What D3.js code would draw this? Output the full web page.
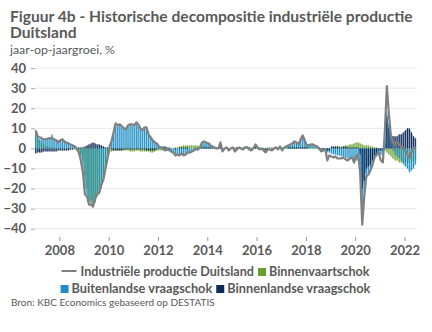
<!DOCTYPE html>
<html>
<head>
<meta charset="utf-8">
<script src="https://cdn.jsdelivr.net/npm/d3@7"></script>
<style>
  body { margin: 0; background: #fff; }
  svg { display: block; font-family: Lato, "Open Sans", sans-serif; }
</style>
</head>
<body>
<div id="chart"></div>
<script>
// maandelijkse reeksen, jan 2007 - jun 2022
const startYear = 2007;

const industrie = [
  9, 6, 5.5, 5, 4.5, 4.5, 5, 5, 5, 4.5, 4, 3,
  4, 4.5, 3.5, 3, 2.5, 2, 1.5, 1, 0, -2, -6, -12,
  -23, -24, -28, -28, -29, -25, -22.5, -22, -18, -15.5, -10, -5,
  1, 4, 8, 12.5, 11.5, 12, 11, 10, 9.5, 11.5, 12, 12,
  11.5, 13, 12, 10, 9, 10.5, 10.5, 7, 5.5, 4, 3, 2.5,
  1, 0.5, 0, -1, -0.5, -0.5, -1.5, -2, -3.5, -3, -3.5, -2.5,
  -3.5, -3, -2, -2, -1.5, -1, 0, -0.5, 0.5, 3, 3.5, 3,
  2.5, 1.5, 1, 0.5, 0, 0, 3, -1.5, 0, 0.5, -1, 0,
  0.5, -1.5, -0.5, 0.5, 0, -0.5, 0.5, 0.5, -0.5, -1, 0, 2,
  0.5, -0.5, 0, -1, -2, -0.5, -0.5, -1, 0, 0.5, -0.5, 1,
  -1, 0.5, 1, 1.5, 2, 2.5, 3.5, 3, 2, 4.5, 6.5, 4,
  1.5, 1.5, 2, 2, 1.5, 1, 0, -1.5, -1, -0.5, -6, -3.5,
  -4, -4.5, -4, -5, -5, -5, -4.5, -5.5, -6, -5, -4.5, -7,
  -4, -3, -12, -38, -24, -14, -13, -11, -8, -4, -3, -2,
  -6, -7, 8, 31, 17, 6, 3, 2, 3, 2, 1, 0,
  -1, -3, -5, -2, 0, 1
];

const binnenvaart = [
  9, 7, 4, 3, 2, 1, 1, 0.5, 0.5, 0, 0, 0,
  0, 0, 0, 0, -0.5, -0.5, -0.5, -0.5, -1, -1.5, -3, -6,
  -14, -20, -26, -28, -29, -27, -24, -23, -20, -16, -11, -6,
  -2, -1.5, -1, -1, -1, -1, -1, -1, -1, -1, -1.5, -1.5,
  -1.5, -1, -1, -1.5, -1.5, -1.5, -1.5, -1.5, -2, -2, -1.5, -1,
  -1, -1, -1, -1, -1, -0.5, -0.5, 0, 0.5, 0.5, 1, 1,
  1.5, 1.5, 1.5, 1.5, 1.5, 1.5, 1.5, 1.5, 1, 1, 1, 1,
  0.5, 0.5, 0.5, 0.5, 0.5, 0.5, 0, 0, 0, 0, 0, 0,
  0, 0.5, 0.5, 0.5, 0.5, 0.5, 1, 1, 0.5, 0.5, 0.5, 0.5,
  0.5, 0.5, 0, 0, 0, 0.5, 0.5, 0.5, 0, 0, 0, 0.5,
  0.5, 0.5, 0.5, 1, 1, 1, 1, 1, 0.5, 0.5, 0.5, 1,
  1, 1, 1, 0.5, 0.5, 0.5, 0, 0, -0.5, -0.5, -1, -1,
  0.5, 0.5, 0.5, 1, 1, 1, 1, 1.5, 1.5, 2, 2, 2.5,
  3, 3, 2.5, 2, 1.5, 1.5, 1.5, 1, 1, 0.5, 0.5, 0,
  0, 0, -1, -2, -3, -4, -5, -6, -6, -7, -7, -7,
  -7, -7, -7, -6.5, -6, -6
];

const buitenland = [
  7, 5.5, 4.5, 4.5, 4, 4.5, 5, 5.5, 7, 5, 4.5, 4,
  4, 4, 3.5, 3, 3, 2, 2, 1.5, 0.5, -1, -4, -10,
  -20, -24, -27, -26, -28, -25, -22, -21, -18, -15, -10, -5,
  1, 4, 7, 11, 11, 11.5, 10.5, 10, 9.5, 11, 11.5, 11.5,
  11, 12, 11.5, 10, 9, 10, 10, 7, 6, 4.5, 3.5, 2.5,
  1.5, 1, 0.5, -0.5, -1, -1.5, -2, -2.5, -3.5, -3, -3.5, -3,
  -3.5, -3, -2.5, -2.5, -2, -1.5, -1, -1, 0, 2.5, 3, 3,
  3, 2.5, 1.5, 1, 0.5, 0, 1.5, 0, 0, 0.5, -0.5, 0,
  0.5, -1, 0, 0.5, 0, -0.5, 0.5, 0.5, 0, -0.5, 0, 1.5,
  0.5, -0.5, 0, -0.5, -1, -0.5, 0, -0.5, 0, 0.5, -0.5, 1,
  -0.5, 0.5, 1, 1.5, 2, 2.5, 3, 3, 2, 4, 5.5, 4,
  2, 2, 2, 2, 1.5, 1, 0.5, -0.5, -0.5, -0.5, -2, -2,
  -2.5, -3, -3, -3.5, -3.5, -4, -4, -4.5, -5, -5, -5, -7.5,
  -6, -6, -11, -28, -22, -13, -12, -11, -9, -6, -4, -3,
  -3, -4, 2, 18, 12, 2, -1, -3, -4, -5, -6, -8,
  -9, -10, -12, -11, -10, -8
];

const binnenland = [
  -2.5, -2, -2, -2, -1.5, -1.5, -1.5, -1.5, -1.5, -1.5, -1.5, -1,
  -1, -1, -1, -1, -1, -0.5, -0.5, 0, 0, 0.5, 0.5, 0.5,
  1, 1.5, 2, 2.5, 3, 2.5, 2, 2, 1.5, 1, 0.5, 0.5,
  0, -0.5, -1, -1, -1, -1, -1, -0.5, -0.5, -0.5, -0.5, -0.5,
  -0.5, -0.5, -0.5, -0.5, -0.5, -0.5, -1, -1, -1, -1, -1, -0.5,
  0.5, 0.5, 1, 1, 0.5, 0.5, 0, 0, -0.5, 0, 0.5, 0.5,
  0.5, 0.5, 0.5, 0, 0, 0, 0, 0, 0, 0.5, 0.5, 0.5,
  0.5, 0.5, 0.5, 0.5, 0, 0, 0.5, 0, 0, 0, 0, 0,
  0, 0, 0.5, 0, 0, 0, 0, 0, 0.5, 0, 0, 0.5,
  0, 0, -0.5, -0.5, -1, -0.5, 0, 0, 0, 0, 0, 0.5,
  0, 0, 0, 0.5, 0.5, 0.5, 0.5, 0.5, 0.5, 0.5, 0.5, 0.5,
  0.5, 0, 0, 0, 0, 0, -0.5, -0.5, -1, -1, -1, -1,
  1, 1, 1, 1, 0.5, 0.5, 1, 1, 0.5, 0.5, 0.5, 0.5,
  0.5, 0.5, -3, -20, -16, -10, -9, -8, -6, -4, -3, -1,
  -1, -1, 3, 16, 10, 7, 6, 6, 6, 7, 7, 8,
  9, 10, 10, 8, 6, 5
];

const yTicks = [40, 30, 20, 10, 0, -10, -20, -30, -40];
const xTickYears = [2008, 2010, 2012, 2014, 2016, 2018, 2020, 2022];

const W = 432, H = 332;
const textColor = "#595959";

const svg = d3.select("#chart").append("svg")
  .attr("width", W)
  .attr("height", H);

// lettergrootte aanpassen zodat de tekst een bepaalde breedte krijgt
function fitWidth(textSel, target) {
  const fs = parseFloat(textSel.attr("font-size"));
  const w = textSel.node().getComputedTextLength();
  textSel.attr("font-size", (fs * target / w).toFixed(2));
}

// titel
const title1 = svg.append("text")
  .attr("x", 10).attr("y", 22)
  .attr("font-size", 15).attr("font-weight", "bold")
  .attr("fill", textColor)
  .text("Figuur 4b - Historische decompositie industriële productie");
fitWidth(title1, 403);
svg.append("text")
  .attr("x", 10).attr("y", 38)
  .attr("font-size", title1.attr("font-size")).attr("font-weight", "bold")
  .attr("fill", textColor)
  .text("Duitsland");
const sub = svg.append("text")
  .attr("x", 10).attr("y", 54)
  .attr("font-size", 12)
  .attr("fill", textColor)
  .text("jaar-op-jaargroei, %");
fitWidth(sub, 105);

const dates = industrie.map((_, i) => new Date(startYear, i, 15));

const x = d3.scaleTime()
  .domain([new Date(2007, 0, 1), new Date(2022, 6, 1)])
  .range([34.7, 416.7]);

const y = d3.scaleLinear()
  .domain([-40, 40])
  .range([228.7, 68.1]);

// rasterlijnen
const grid = svg.append("g");
grid.selectAll("line")
  .data(yTicks)
  .enter()
  .append("line")
  .attr("x1", 35).attr("x2", 417)
  .attr("y1", d => y(d)).attr("y2", d => y(d))
  .attr("stroke", "#e8e8e8")
  .attr("stroke-width", 1);

const yAxis = svg.append("g")
  .attr("transform", "translate(35,0)")
  .call(d3.axisLeft(y).tickValues(yTicks).tickSize(4).tickPadding(5));
yAxis.select(".domain").remove();
yAxis.selectAll(".tick line").attr("stroke", "#aaa");
yAxis.selectAll("text")
  .attr("font-size", 13).attr("font-weight", "bold")
  .attr("font-family", "Lato, sans-serif")
  .attr("fill", textColor);

const xAxis = svg.append("g")
  .attr("transform", "translate(0,237)")
  .call(d3.axisBottom(x)
    .tickValues(xTickYears.map(yr => new Date(yr, 0, 1)))
    .tickFormat(d3.timeFormat("%Y"))
    .tickSize(4).tickPadding(5));
xAxis.select(".domain").remove();
xAxis.selectAll(".tick line").attr("stroke", "#999");
xAxis.selectAll("text")
  .attr("font-size", 13).attr("font-weight", "bold")
  .attr("font-family", "Lato, sans-serif")
  .attr("fill", textColor);

const series = [
  { name: "Binnenvaartschok", values: binnenvaart, bar: "#6a9e2e", area: "#9ccc6a" },
  { name: "Buitenlandse vraagschok", values: buitenland, bar: "#1f8fc4", area: "#62b3dc" },
  { name: "Binnenlandse vraagschok", values: binnenland, bar: "#0c2b55", area: "#4a6090" }
];

// vlakken (niet gestapeld, half doorzichtig)
const area = d3.area()
  .x((d, i) => x(dates[i]))
  .y0(y(0))
  .y1(d => y(d));

series.forEach(s => {
  svg.append("path")
    .datum(s.values)
    .attr("fill", s.area)
    .attr("fill-opacity", 0.55)
    .attr("d", area);
});

// staafjes
const barW = 1;
series.forEach(s => {
  svg.append("g")
    .selectAll("rect")
    .data(s.values)
    .enter()
    .append("rect")
    .attr("x", (d, i) => x(dates[i]) - barW / 2)
    .attr("y", d => Math.min(y(d), y(0)))
    .attr("width", barW)
    .attr("height", d => Math.abs(y(d) - y(0)))
    .attr("fill", s.bar);
});

// lijn industriële productie
const line = d3.line()
  .x((d, i) => x(dates[i]))
  .y(d => y(d));

svg.append("path")
  .datum(industrie)
  .attr("fill", "none")
  .attr("stroke", "#808080")
  .attr("stroke-width", 2.2)
  .attr("stroke-linejoin", "round")
  .attr("d", line);

// legenda
const legendRows = [
  [{ type: "line", label: "Industriële productie Duitsland", color: "#808080" },
   { type: "rect", label: "Binnenvaartschok", color: series[0].bar }],
  [{ type: "rect", label: "Buitenlandse vraagschok", color: series[1].bar },
   { type: "rect", label: "Binnenlandse vraagschok", color: series[2].bar }]
];
const rowY = [271, 288];
const rowWidth = [308, 310];

legendRows.forEach((row, r) => {
  const g = svg.append("g");
  // eerst breedte van de tekst meten bij 12px
  const probe = g.append("text").attr("font-size", 12).attr("font-weight", "bold")
    .text(row.map(d => d.label).join(""));
  const raw = probe.node().getComputedTextLength();
  probe.remove();
  const symbols = row.reduce((acc, it, k) => acc + (it.type === "line" ? 19 : 11) + (k > 0 ? 4 : 0), 0);
  const fs = 12 * (rowWidth[r] - symbols) / raw;

  let cx = 0;
  row.forEach((item, k) => {
    if (k > 0) cx += 4;
    if (item.type === "line") {
      g.append("line")
        .attr("x1", cx).attr("x2", cx + 15)
        .attr("y1", rowY[r]).attr("y2", rowY[r])
        .attr("stroke", item.color).attr("stroke-width", 2);
      cx += 19;
    } else {
      g.append("rect")
        .attr("x", cx).attr("y", rowY[r] - 3)
        .attr("width", 8).attr("height", 8)
        .attr("fill", item.color);
      cx += 11;
    }
    const t = g.append("text")
      .attr("x", cx).attr("y", rowY[r] + 4.5)
      .attr("font-size", fs.toFixed(2)).attr("font-weight", "bold")
      .attr("fill", textColor)
      .text(item.label);
    cx += t.node().getComputedTextLength();
  });
  g.attr("transform", `translate(${215.5 - cx / 2},0)`);
});

const src = svg.append("text")
  .attr("x", 11).attr("y", 306)
  .attr("font-size", 10)
  .attr("fill", textColor)
  .text("Bron: KBC Economics gebaseerd op DESTATIS");
fitWidth(src, 204);
</script>
</body>
</html>
